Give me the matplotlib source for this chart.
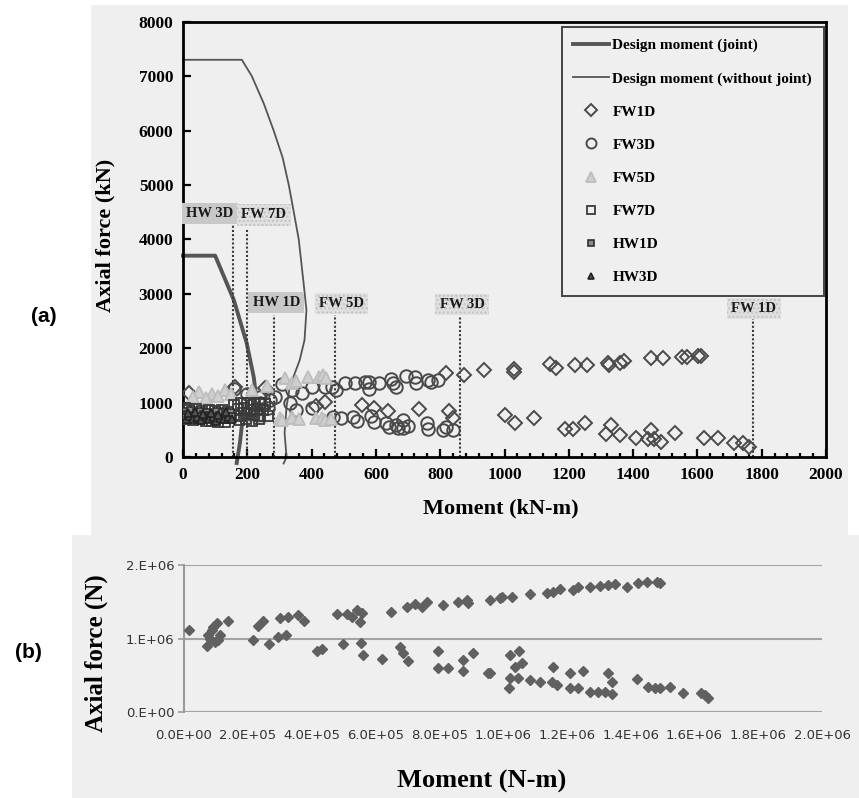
import matplotlib.pyplot as plt
from matplotlib.patches import Rectangle
from matplotlib.ticker import MultipleLocator, FuncFormatter

W, H = 859, 798
BG = '#efefef'
SERIF = ['Liberation Serif', 'DejaVu Serif']
SANS = ['Liberation Sans', 'DejaVu Sans']

# ---- panel (a) data, kN-m / kN ----
joint_m = [0, 100, 158, 198, 220, 226, 220, 200, 184, 177, 167]
joint_f = [3700, 3700, 2886, 2096, 1470, 1180, 930, 760, 625, 257, -110]

nojoint_m = [0, 183, 214, 251, 282, 310, 329, 340, 360, 375, 384, 378, 363, 332, 322, 316, 322, 313]
nojoint_f = [7300, 7300, 7000, 6500, 6000, 5500, 5000, 4650, 4000, 3200, 2700, 2150, 1780, 1290, 920, 440, 0, -120]

fw1d_m = [18, 161, 254, 819, 874, 936, 1029, 1029, 1141, 1160, 1219, 1256, 1321, 1324, 1358, 1371,
          1457, 1494, 1553, 1569, 1603, 1612,
          415, 441, 558, 595, 638, 735, 828, 840, 1002, 1033, 1091, 1188, 1212, 1250, 1315, 1330,
          1358, 1408, 1445, 1457, 1464, 1488, 1529, 1619, 1665, 1715, 1743, 1761]
fw1d_f = [1180, 1287, 1275, 1544, 1507, 1599, 1618, 1562, 1710, 1636, 1691, 1691, 1728, 1691, 1728, 1765,
          1820, 1820, 1838, 1838, 1857, 1857,
          937, 1011, 956, 901, 846, 882, 846, 717, 772, 625, 717, 515, 515, 625, 423, 588,
          404, 349, 331, 496, 331, 276, 441, 349, 349, 257, 257, 184]

fw3d_m = [160, 200, 240, 270, 285, 307, 338, 369, 400, 441, 462, 477, 503, 536, 565, 580, 580, 611,
          648, 654, 664, 695, 722, 725, 763, 772, 793,
          210, 240, 265, 332, 353, 400, 468, 493, 530, 540, 586, 595, 632, 642, 664, 670, 685, 685,
          701, 760, 763, 809, 819, 840]
fw3d_f = [1250, 1150, 1100, 1048, 1103, 1340, 1232, 1176, 1287, 1287, 1287, 1232, 1360, 1360, 1370, 1379, 1250, 1360,
          1434, 1360, 1287, 1489, 1471, 1360, 1415, 1379, 1415,
          960, 1000, 900, 993, 864, 901, 735, 717, 735, 662, 754, 643, 625, 551, 588, 533, 680, 533,
          570, 625, 515, 496, 551, 496]

fw5d_m = [50, 90, 130, 214, 260, 316, 338, 350, 390, 422, 437, 445, 30, 70, 110, 150,
          200, 240, 301, 307, 338, 338, 360, 415, 431, 441, 460]
fw5d_f = [1195, 1150, 1232, 1232, 1300, 1452, 1360, 1400, 1471, 1471, 1507, 1450, 1100, 1080, 1120, 1150,
          760, 740, 717, 680, 735, 717, 700, 717, 717, 680, 700]

fw7d_m = [5, 20, 40, 60, 80, 100, 120, 140, 160, 180, 200, 220, 240, 255, 170, 190, 210, 230, 250, 265,
          160, 180, 200, 220, 240, 175, 195, 215, 235, 10, 30, 50, 70, 90, 110, 130]
fw7d_f = [900, 860, 880, 850, 870, 840, 860, 830, 960, 990, 1000, 980, 1000, 970, 880, 900, 870, 890, 860, 760,
          780, 760, 790, 770, 750, 680, 690, 670, 700, 700, 680, 690, 660, 670, 650, 640]

hw1d_m = [5, 15, 25, 35, 45, 55, 65, 75, 85, 95, 105, 115, 125, 135, 145, 10, 30, 50, 70, 90, 110, 130, 150]
hw1d_f = [820, 780, 840, 760, 800, 830, 770, 810, 760, 790, 820, 750, 800, 770, 810, 720, 740, 730, 710, 740, 720, 700, 730]

hw3d_m = [8, 20, 32, 44, 56, 68, 80, 92, 104, 116, 128, 140, 152, 14, 38, 62, 86, 110, 134]
hw3d_f = [700, 760, 690, 740, 680, 750, 700, 730, 670, 720, 690, 740, 700, 800, 820, 790, 810, 780, 830]

# failure marks: name, moment at dotted line, top of line, label x, label y
mark_names = ['HW 3D', 'FW 7D', 'HW 1D', 'FW 5D', 'FW 3D', 'FW 1D']
mark_m = [155, 200, 282, 474, 862, 1774]
mark_top = [4265, 4200, 2610, 2610, 2570, 2550]
mark_lx = [84, 251, 290, 493, 868, 1775]
mark_ly = [4476, 4449, 2840, 2822, 2803, 2730]

# ---- panel (b) data, N-m / N ----
test_m = [16e3, 72e3, 75e3, 82e3, 88e3, 91e3, 97e3, 103e3, 107e3, 113e3, 138e3,
          216e3, 232e3, 248e3, 266e3, 295e3, 301e3, 320e3, 326e3, 357e3, 376e3, 417e3, 433e3,
          480e3, 499e3, 511e3, 527e3, 542e3, 552e3, 555e3, 558e3, 561e3, 621e3, 649e3, 677e3, 687e3,
          699e3, 702e3, 724e3, 746e3, 762e3, 796e3, 796e3, 812e3, 828e3, 859e3, 875e3, 875e3, 887e3,
          890e3, 906e3, 953e3, 959e3, 990e3,
          997e3, 1028e3, 1085e3, 1138e3, 1157e3, 1179e3, 1220e3, 1235e3, 1273e3, 1304e3, 1329e3,
          1351e3, 1389e3, 1423e3, 1452e3, 1483e3, 1492e3,
          959e3, 1022e3, 1050e3, 1038e3, 1060e3, 1022e3, 1047e3, 1019e3, 1085e3, 1116e3, 1154e3,
          1157e3, 1169e3, 1210e3, 1210e3, 1235e3, 1251e3, 1273e3, 1298e3, 1320e3, 1329e3, 1342e3,
          1342e3, 1420e3, 1455e3, 1477e3, 1492e3, 1524e3, 1564e3, 1621e3, 1633e3, 1643e3]
test_f = [1.12e6, 0.90e6, 1.05e6, 1.00e6, 1.12e6, 1.16e6, 0.95e6, 1.21e6, 0.98e6, 1.05e6, 1.24e6,
          0.98e6, 1.17e6, 1.24e6, 0.925e6, 1.02e6, 1.28e6, 1.05e6, 1.29e6, 1.32e6, 1.24e6, 0.83e6, 0.86e6,
          1.33e6, 0.925e6, 1.33e6, 1.29e6, 1.39e6, 1.22e6, 0.94e6, 1.35e6, 0.775e6, 0.72e6, 1.36e6, 0.88e6, 0.80e6,
          1.43e6, 0.69e6, 1.47e6, 1.43e6, 1.50e6, 0.83e6, 0.60e6, 1.46e6, 0.60e6, 1.50e6, 0.71e6, 0.56e6, 1.52e6,
          1.48e6, 0.80e6, 0.54e6, 1.52e6, 1.55e6,
          1.56e6, 1.56e6, 1.60e6, 1.62e6, 1.63e6, 1.67e6, 1.66e6, 1.70e6, 1.70e6, 1.71e6, 1.73e6,
          1.74e6, 1.70e6, 1.755e6, 1.77e6, 1.77e6, 1.76e6,
          0.53e6, 0.775e6, 0.83e6, 0.61e6, 0.67e6, 0.46e6, 0.46e6, 0.33e6, 0.44e6, 0.41e6, 0.41e6,
          0.61e6, 0.37e6, 0.53e6, 0.33e6, 0.33e6, 0.56e6, 0.27e6, 0.27e6, 0.27e6, 0.53e6, 0.41e6,
          0.245e6, 0.45e6, 0.34e6, 0.33e6, 0.33e6, 0.34e6, 0.26e6, 0.26e6, 0.23e6, 0.19e6]


def box(l, t, r, b):
    return [l / W, 1 - b / H, (r - l) / W, (b - t) / H]


fig = plt.figure(figsize=(W / 100, H / 100), dpi=100)
fig.patch.set_facecolor('white')
for l, t, r, b in [(91, 5, 848, 535), (72, 535, 859, 798)]:
    fig.patches.append(Rectangle((l / W, 1 - b / H), (r - l) / W, (b - t) / H,
                                 transform=fig.transFigure, facecolor=BG,
                                 edgecolor='none', zorder=-5))

# ================= panel (a) =================
ax = fig.add_axes(box(183, 21.7, 826, 457))
ax.patch.set_visible(False)
ax.set_xlim(0, 2000)
ax.set_ylim(0, 8000)

ln_j, = ax.plot(joint_m, joint_f, color='#555555', lw=2.8, zorder=2, clip_on=False,
                label='Design moment (joint)')
ln_n, = ax.plot(nojoint_m, nojoint_f, color='#555555', lw=1.3, zorder=2, clip_on=False,
                label='Design moment (without joint)')

for name, m, top, lx, ly in zip(mark_names, mark_m, mark_top, mark_lx, mark_ly):
    ax.plot([m, m], [0, top], color='#3a3a3a', lw=1.5, ls=(0, (1, 1)), zorder=2)
    if name.startswith('HW'):
        bb = dict(boxstyle='square,pad=0.3', facecolor='#c8c8c8', edgecolor='none')
    else:
        bb = dict(boxstyle='square,pad=0.3', facecolor='#e0e0e0', edgecolor='#c2c2c2',
                  hatch='....', lw=0)
    ax.text(lx, ly, name, ha='center', va='center', fontsize=10.5, fontweight='bold',
            family=SERIF, color='#1a1a1a', bbox=bb, zorder=3)

ec = '#4a4a4a'
h1, = ax.plot(fw1d_m, fw1d_f, 'D', ms=7.5, mfc='none', mec=ec, mew=1.4, ls='none', zorder=4, label='FW1D')
h2, = ax.plot(fw3d_m, fw3d_f, 'o', ms=9, mfc='none', mec=ec, mew=1.4, ls='none', zorder=4, label='FW3D')
h3, = ax.plot(fw5d_m, fw5d_f, '^', ms=9, mfc='#cfcfcf', mec='#bdbdbd', mew=1.3, ls='none', zorder=4, label='FW5D')
h4, = ax.plot(fw7d_m, fw7d_f, 's', ms=7.5, mfc='none', mec='#3a3a3a', mew=1.3, ls='none', zorder=5, label='FW7D')
h5, = ax.plot(hw1d_m, hw1d_f, 's', ms=5.5, mfc='#8a8a8a', mec='#2e2e2e', mew=1.2, ls='none', zorder=5, label='HW1D')
h6, = ax.plot(hw3d_m, hw3d_f, '^', ms=6, mfc='#555555', mec='#222222', mew=1.2, ls='none', zorder=5, label='HW3D')

leg = ax.legend(handles=[ln_j, ln_n, h1, h2, h3, h4, h5, h6], loc='upper left',
                bbox_to_anchor=((562 - 183) / 643, (457 - 27) / 435.3), borderaxespad=0,
                prop=dict(family=SERIF, weight='bold', size=11), numpoints=1,
                frameon=True, fancybox=False, edgecolor='#444444', facecolor=BG, framealpha=1,
                handlelength=2.3, handletextpad=0.25, labelspacing=1.27, borderpad=0.75,
                markerscale=0.8)
leg.get_frame().set_linewidth(1.4)
leg.set_zorder(6)

for s in ax.spines.values():
    s.set_linewidth(2.0)
    s.set_color('black')
ax.xaxis.set_major_locator(MultipleLocator(200))
ax.xaxis.set_minor_locator(MultipleLocator(40))
ax.yaxis.set_major_locator(MultipleLocator(1000))
ax.tick_params(which='both', direction='in', top=False, right=False, width=1.6, color='black')
ax.tick_params(which='major', length=6)
ax.tick_params(which='minor', length=3)
ax.tick_params(axis='x', pad=7)
ax.tick_params(axis='y', pad=7)
for lab in ax.get_xticklabels() + ax.get_yticklabels():
    lab.set_family(SERIF)
    lab.set_fontweight('bold')
    lab.set_fontsize(12.5)

fig.text(105 / W, 1 - 235 / H, 'Axial force (kN)', rotation=90, ha='center', va='center',
         family=SERIF, fontweight='bold', fontsize=16)
fig.text(501 / W, 1 - 508 / H, 'Moment (kN-m)', ha='center', va='center',
         family=SERIF, fontweight='bold', fontsize=16)
fig.text(44 / W, 1 - 316 / H, '(a)', ha='center', va='center', family=SANS,
         fontweight='bold', fontsize=15)

# ================= panel (b) =================
bx = fig.add_axes(box(184, 565, 822, 712.3))
bx.patch.set_visible(False)
bx.set_xlim(0, 2e6)
bx.set_ylim(0, 2e6)
bx.plot(test_m, test_f, 'D', ms=5.5, color='#606060', ls='none', zorder=3)
bx.set_yticks([0, 1e6, 2e6])
bx.set_xticks([i * 2e5 for i in range(11)])
bx.yaxis.set_major_formatter(FuncFormatter(lambda v, p: '{:#.0E}'.format(v)))
bx.xaxis.set_major_formatter(FuncFormatter(lambda v, p: '{:.1E}'.format(v)))
bx.grid(axis='y', color='#a4a4a4', lw=1.5)
for side in ['top', 'right', 'bottom']:
    bx.spines[side].set_visible(False)
bx.spines['left'].set_color('#9a9a9a')
bx.spines['left'].set_linewidth(1.5)
bx.tick_params(axis='y', length=4, width=1.2, color='#9a9a9a', pad=3, labelsize=9.5,
               labelcolor='#333333')
bx.tick_params(axis='x', length=0, pad=12, labelsize=9.5, labelcolor='#333333')
bx.set_axisbelow(True)

fig.text(96 / W, 1 - 653 / H, 'Axial force (N)', rotation=90, ha='center', va='center',
         family=SERIF, fontweight='bold', fontsize=18)
fig.text(482 / W, 1 - 781 / H, 'Moment (N-m)', ha='center', va='center',
         family=SERIF, fontweight='bold', fontsize=19)
fig.text(28 / W, 1 - 652 / H, '(b)', ha='center', va='center', family=SANS,
         fontweight='bold', fontsize=15)

fig.savefig('out.png', dpi=100)
